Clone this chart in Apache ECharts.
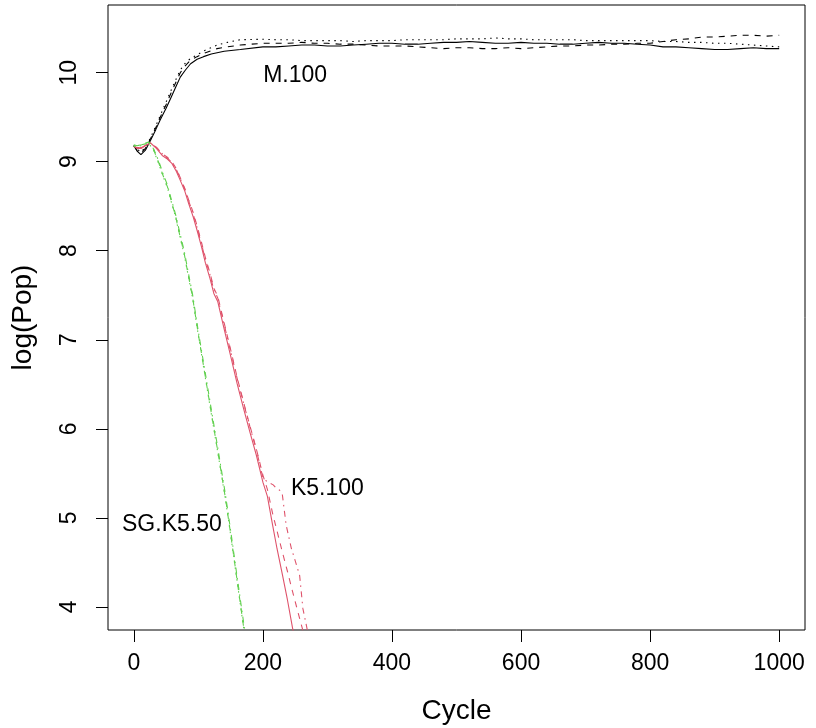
<!DOCTYPE html>
<html>
<head>
<meta charset="utf-8">
<script src="https://cdn.jsdelivr.net/npm/echarts@6/dist/echarts.min.js"></script>
<style>
  html, body { margin: 0; padding: 0; background: #fff; }
  #main { width: 816px; height: 728px; }
</style>
</head>
<body>
<div id="main"></div>
<script>
// tick labels
const xTicks = [0, 200, 400, 600, 800, 1000];
const yTicks = [4, 5, 6, 7, 8, 9, 10];

// M.100 (black)
const mSolidX = [0, 5, 11, 18, 26, 34, 41, 50, 57, 65, 72, 80, 88, 98, 108, 120, 140, 165, 200, 220, 240, 260, 280, 300, 320, 340, 360, 380, 400, 420, 440, 460, 480, 500, 520, 540, 560, 580, 600, 620, 640, 660, 680, 700, 720, 740, 760, 780, 800, 820, 840, 860, 880, 900, 920, 940, 960, 980, 1000];
const mSolidY = [9.18, 9.12, 9.08, 9.13, 9.24, 9.36, 9.47, 9.60, 9.71, 9.84, 9.95, 10.03, 10.10, 10.15, 10.18, 10.21, 10.24, 10.26, 10.29, 10.29, 10.30, 10.31, 10.31, 10.30, 10.30, 10.31, 10.32, 10.33, 10.33, 10.32, 10.32, 10.33, 10.34, 10.34, 10.35, 10.34, 10.33, 10.33, 10.34, 10.33, 10.33, 10.32, 10.32, 10.33, 10.34, 10.33, 10.33, 10.32, 10.31, 10.29, 10.29, 10.28, 10.27, 10.26, 10.26, 10.27, 10.28, 10.27, 10.27];
const mDashX = [0, 5, 11, 18, 26, 34, 41, 50, 57, 65, 72, 80, 88, 98, 110, 129, 145, 165, 200, 220, 240, 260, 280, 300, 320, 340, 360, 380, 400, 420, 440, 460, 480, 500, 520, 540, 560, 580, 600, 620, 640, 660, 680, 700, 720, 740, 760, 780, 800, 820, 840, 860, 880, 900, 920, 940, 960, 980, 1000];
const mDashY = [9.18, 9.13, 9.10, 9.15, 9.26, 9.38, 9.50, 9.64, 9.76, 9.89, 10.00, 10.08, 10.14, 10.18, 10.22, 10.27, 10.29, 10.31, 10.33, 10.33, 10.33, 10.34, 10.33, 10.33, 10.32, 10.32, 10.31, 10.30, 10.30, 10.30, 10.29, 10.28, 10.27, 10.28, 10.28, 10.27, 10.27, 10.28, 10.27, 10.28, 10.29, 10.30, 10.30, 10.31, 10.31, 10.32, 10.32, 10.33, 10.33, 10.35, 10.37, 10.38, 10.40, 10.40, 10.41, 10.42, 10.42, 10.41, 10.42];
const mDotX = [0, 5, 11, 18, 26, 34, 41, 50, 57, 65, 72, 80, 88, 98, 110, 129, 145, 165, 200, 220, 240, 260, 280, 300, 320, 340, 360, 380, 400, 420, 440, 460, 480, 500, 520, 540, 560, 580, 600, 620, 640, 660, 680, 700, 720, 740, 760, 780, 800, 820, 840, 860, 880, 900, 920, 940, 960, 980, 1000];
const mDotY = [9.18, 9.14, 9.11, 9.16, 9.27, 9.40, 9.52, 9.67, 9.79, 9.92, 10.03, 10.11, 10.16, 10.20, 10.25, 10.31, 10.34, 10.37, 10.375, 10.37, 10.37, 10.36, 10.36, 10.36, 10.36, 10.35, 10.36, 10.36, 10.36, 10.37, 10.37, 10.37, 10.37, 10.38, 10.38, 10.38, 10.39, 10.38, 10.38, 10.37, 10.37, 10.37, 10.37, 10.36, 10.36, 10.36, 10.36, 10.36, 10.36, 10.35, 10.35, 10.34, 10.34, 10.33, 10.33, 10.32, 10.31, 10.30, 10.29];

// K5.100 (red)
const kSolidX = [0, 5, 12, 20, 26, 35, 44, 52, 59, 66, 72, 79, 85, 92, 98, 105, 111, 118, 124, 130, 140, 150, 160, 170, 180, 190, 200, 207, 215, 222, 230, 238, 246, 255];
const kSolidY = [9.17, 9.15, 9.15, 9.19, 9.21, 9.15, 9.07, 9.03, 8.98, 8.89, 8.79, 8.67, 8.53, 8.38, 8.23, 8.04, 7.86, 7.69, 7.52, 7.43, 7.12, 6.82, 6.51, 6.23, 5.96, 5.70, 5.40, 5.24, 4.92, 4.65, 4.37, 4.08, 3.76, 3.45];
const kDashX = [0, 5, 12, 20, 26, 35, 44, 52, 59, 66, 72, 79, 85, 92, 98, 105, 111, 118, 124, 130, 140, 150, 160, 170, 180, 190, 200, 207, 215, 222, 230, 238, 246, 254, 261, 268];
const kDashY = [9.17, 9.16, 9.16, 9.19, 9.21, 9.16, 9.09, 9.05, 9.00, 8.92, 8.82, 8.70, 8.57, 8.43, 8.28, 8.09, 7.92, 7.75, 7.58, 7.49, 7.19, 6.89, 6.58, 6.30, 6.03, 5.77, 5.48, 5.32, 5.05, 4.85, 4.62, 4.40, 4.17, 3.95, 3.76, 3.55];
const kDotDashX = [0, 5, 12, 20, 26, 35, 44, 52, 59, 66, 72, 79, 85, 92, 98, 105, 111, 118, 124, 130, 140, 150, 160, 170, 180, 190, 200, 206, 211, 216, 221, 226, 230, 236, 244, 250, 257, 262, 268, 274];
const kDotDashY = [9.17, 9.16, 9.16, 9.19, 9.21, 9.16, 9.09, 9.04, 8.99, 8.91, 8.81, 8.69, 8.56, 8.41, 8.26, 8.07, 7.90, 7.73, 7.56, 7.47, 7.17, 6.87, 6.57, 6.29, 6.02, 5.76, 5.45, 5.41, 5.39, 5.37, 5.33, 5.31, 5.27, 4.92, 4.66, 4.52, 4.35, 3.98, 3.77, 3.55];

// SG.K5.50 (green)
const sgDashX = [0, 5, 12, 18, 23, 31, 39, 45, 52, 58, 65, 71, 78, 84, 91, 100, 110, 120, 130, 142, 150, 160, 170, 178];
const sgDashY = [9.19, 9.18, 9.19, 9.21, 9.22, 9.13, 8.98, 8.85, 8.72, 8.56, 8.38, 8.18, 7.97, 7.74, 7.48, 7.06, 6.62, 6.18, 5.75, 5.22, 4.82, 4.30, 3.78, 3.40];
const sgDotDashX = [0, 5, 12, 18, 23, 31, 39, 45, 52, 58, 65, 71, 78, 84, 91, 100, 110, 120, 130, 142, 150, 160, 171, 179];
const sgDotDashY = [9.18, 9.18, 9.19, 9.20, 9.22, 9.14, 9.00, 8.87, 8.74, 8.58, 8.40, 8.21, 8.00, 7.77, 7.51, 7.09, 6.66, 6.22, 5.79, 5.26, 4.86, 4.34, 3.78, 3.40];
const sgDotX = [0, 5, 12, 18, 23, 31, 39, 45, 52, 58, 65, 71, 78, 84, 91, 100, 110, 120, 130, 142, 150, 160, 170, 178];
const sgDotY = [9.17, 9.17, 9.18, 9.20, 9.21, 9.12, 8.97, 8.84, 8.71, 8.55, 8.37, 8.17, 7.96, 7.73, 7.47, 7.05, 6.61, 6.17, 5.74, 5.21, 4.81, 4.29, 3.77, 3.39];

// text labels in the plot
const labelNames = ['M.100', 'K5.100', 'SG.K5.50'];
const labelX = [250, 300, 59];
const labelY = [9.97, 5.33, 4.92];

const RED = '#DF536B';
const GREEN = '#61D04F';
const DASH = [6, 6];
const DOT = [1.5, 4.5];
const DOTDASH = [1.5, 4.5, 6, 4.5];
const FONT = 'Liberation Sans';

const zip = (xs, ys) => xs.map((x, i) => [x, ys[i]]);

const line = (name, xs, ys, color, type) => ({
    name: name,
    type: 'line',
    data: zip(xs, ys),
    showSymbol: false,
    symbol: 'none',
    clip: true,
    silent: true,
    lineStyle: { color: color, width: 1.1, type: type }
});

const chart = echarts.init(document.getElementById('main'));
chart.setOption({
    animation: false,
    backgroundColor: '#fff',
    grid: {
        left: 108, right: 11, top: 5, bottom: 98,
        show: true, borderColor: '#000', borderWidth: 1,
        outerBoundsMode: 'none'
    },
    xAxis: {
        type: 'value',
        min: -40, max: 1040,
        name: 'Cycle',
        nameLocation: 'middle',
        nameGap: 67,
        nameTextStyle: { fontFamily: FONT, fontSize: 28, color: '#000' },
        axisLine: { show: false, onZero: false },
        splitLine: { show: false },
        axisTick: { show: true, inside: false, length: 12, customValues: xTicks, lineStyle: { color: '#000', width: 1 } },
        axisLabel: { customValues: xTicks, margin: 22, fontFamily: FONT, fontSize: 23, color: '#000', formatter: v => String(v) }
    },
    yAxis: {
        type: 'value',
        min: 3.74, max: 10.76,
        name: 'log(Pop)',
        nameLocation: 'middle',
        nameGap: 71,
        nameTextStyle: { fontFamily: FONT, fontSize: 28, color: '#000' },
        axisLine: { show: false, onZero: false },
        splitLine: { show: false },
        axisTick: { show: true, inside: false, length: 12, customValues: yTicks, lineStyle: { color: '#000', width: 1 } },
        axisLabel: { customValues: yTicks, rotate: 90, margin: 27, fontFamily: FONT, fontSize: 23, color: '#000', formatter: v => String(v) }
    },
    series: [
        line('M.100 a', mSolidX, mSolidY, '#000', 'solid'),
        line('M.100 b', mDashX, mDashY, '#000', DASH),
        line('M.100 c', mDotX, mDotY, '#000', DOT),
        line('K5.100 a', kSolidX, kSolidY, RED, 'solid'),
        line('K5.100 b', kDashX, kDashY, RED, DASH),
        line('K5.100 c', kDotDashX, kDotDashY, RED, DOTDASH),
        line('SG.K5.50 a', sgDashX, sgDashY, GREEN, DASH),
        line('SG.K5.50 b', sgDotDashX, sgDotDashY, GREEN, DOTDASH),
        line('SG.K5.50 c', sgDotX, sgDotY, GREEN, DOT),
        {
            type: 'scatter',
            symbolSize: 0,
            silent: true,
            itemStyle: { opacity: 1 },
            data: labelNames.map((n, i) => ({ name: n, value: [labelX[i], labelY[i]] })),
            label: {
                show: true,
                position: 'inside',
                formatter: p => p.name,
                fontFamily: FONT,
                fontSize: 23,
                color: '#000',
                opacity: 1,
                textBorderWidth: 0
            }
        }
    ]
});
</script>
</body>
</html>
